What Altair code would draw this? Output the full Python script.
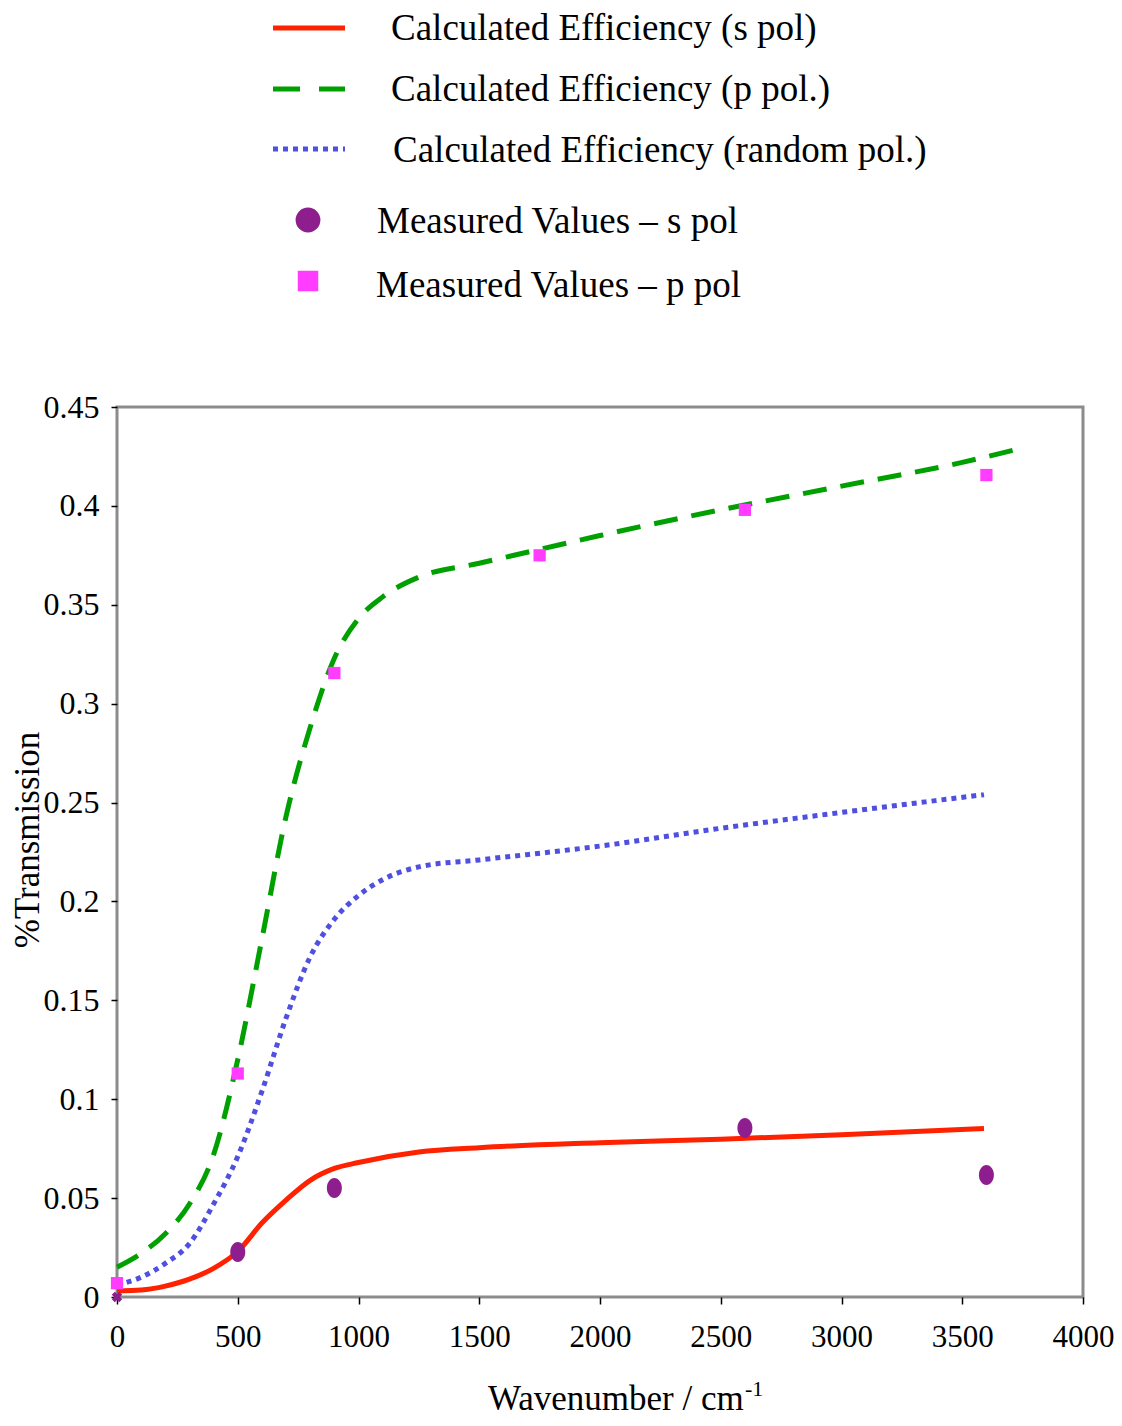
import altair as alt
import pandas as pd

# ---- data ----
wn_s = [0, 100, 200, 300, 400, 500, 600, 700, 800, 900, 1000, 1250, 1500, 2000, 2500, 3000, 3590]
eff_s = [0.003, 0.0035, 0.0055, 0.009, 0.0145, 0.023, 0.0374, 0.049, 0.059, 0.065, 0.068, 0.0733, 0.0755, 0.078, 0.0798, 0.082, 0.0852]

wn_p = [0, 100, 200, 300, 400, 500, 600, 700, 800, 900, 1000, 1100, 1250, 1500, 1750, 2000, 2500, 3000, 3500, 3740]
eff_p = [0.015, 0.022, 0.032, 0.047, 0.072, 0.12, 0.181, 0.243, 0.288, 0.323, 0.343, 0.354, 0.364, 0.371, 0.378, 0.385, 0.398, 0.41, 0.422, 0.429]

wn_r = [0, 100, 200, 300, 400, 500, 600, 700, 800, 900, 1000, 1100, 1250, 1500, 2000, 2500, 3000, 3590]
eff_r = [0.006, 0.01, 0.017, 0.027, 0.047, 0.071, 0.104, 0.141, 0.172, 0.191, 0.203, 0.211, 0.2175, 0.221, 0.228, 0.237, 0.245, 0.254]

meas_s_wn = [500, 900, 2600, 3600]
meas_s_val = [0.0228, 0.0551, 0.0855, 0.0617]
meas_s0_wn = [0]
meas_s0_val = [0.0]

meas_p_wn = [0, 500, 900, 1750, 2600, 3600]
meas_p_val = [0.007, 0.113, 0.3155, 0.375, 0.398, 0.4156]

x_ticks = [0, 500, 1000, 1500, 2000, 2500, 3000, 3500, 4000]
y_ticks = [0, 0.05, 0.1, 0.15, 0.2, 0.25, 0.3, 0.35, 0.4, 0.45]

legend_labels = [
    "Calculated Efficiency (s pol)",
    "Calculated Efficiency (p pol.)",
    "Calculated Efficiency (random pol.)",
    "Measured Values \u2013 s pol",
    "Measured Values \u2013 p pol",
]

RED = "#FF2200"
GREEN = "#00A000"
BLUE = "#5050E0"
PURPLE = "#8E1E8E"
MAGENTA = "#FF3CFF"
FONT = "Liberation Serif"
ELLIPSE = "M-0.75,0 A0.75,1 0 1,0 0.75,0 A0.75,1 0 1,0 -0.75,0 Z"

W, H = 966, 890

df_s = pd.DataFrame({"wn": wn_s, "eff": eff_s})
df_p = pd.DataFrame({"wn": wn_p, "eff": eff_p})
df_r = pd.DataFrame({"wn": wn_r, "eff": eff_r})
df_ms = pd.DataFrame({"wn": meas_s_wn, "val": meas_s_val})
df_ms0 = pd.DataFrame({"wn": meas_s0_wn, "val": meas_s0_val})
df_mp = pd.DataFrame({"wn": meas_p_wn, "val": meas_p_val})

xscale = alt.Scale(domain=[0, 4000], nice=False, zero=False)
yscale = alt.Scale(domain=[0, 0.45], nice=False)

xaxis = alt.Axis(values=x_ticks, format="d", title=None, grid=False, domain=False,
                 tickColor="black", tickSize=7, tickWidth=1.5,
                 labelFont=FONT, labelFontSize=31, labelColor="black", labelPadding=18,
                 labelFlush=False)
yaxis = alt.Axis(values=y_ticks, format=".2~f", title=None, grid=False, domain=False,
                 tickColor="black", tickSize=6, tickWidth=1.5,
                 labelFont=FONT, labelFontSize=32, labelColor="black", labelPadding=12)

X = alt.X("wn:Q", scale=xscale, axis=xaxis)

line_s = alt.Chart(df_s).mark_line(color=RED, strokeWidth=5, interpolate="monotone").encode(
    x=X, y=alt.Y("eff:Q", scale=yscale, axis=yaxis))
line_p = alt.Chart(df_p).mark_line(color=GREEN, strokeWidth=5, strokeDash=[24, 14], interpolate="monotone").encode(
    x="wn:Q", y="eff:Q")
line_r = alt.Chart(df_r).mark_line(color=BLUE, strokeWidth=5, strokeDash=[5, 5], interpolate="monotone").encode(
    x="wn:Q", y="eff:Q")

pts_s = alt.Chart(df_ms).mark_point(shape=ELLIPSE, filled=True, color=PURPLE, opacity=1, size=400).encode(
    x="wn:Q", y="val:Q")
pts_s0 = alt.Chart(df_ms0).mark_point(shape="cross", angle=45, filled=True, color=PURPLE, opacity=1, size=110).encode(
    x="wn:Q", y="val:Q")
pts_p = alt.Chart(df_mp).mark_point(shape="square", filled=True, color=MAGENTA, opacity=1, size=150).encode(
    x="wn:Q", y="val:Q")

# ---- custom legend above the plot (pixel positions relative to plot origin) ----
leg = []
line_rows = [(-379, RED, None), (-318, GREEN, [27, 19]), (-258, BLUE, [5, 5])]
for yy, col, dash in line_rows:
    kw = dict(color=col, strokeWidth=5)
    if dash:
        kw["strokeDash"] = dash
    leg.append(alt.Chart(df_s.head(1)).mark_rule(**kw).encode(
        x=alt.value(156), x2=alt.value(228), y=alt.value(yy)))
leg.append(alt.Chart(df_s.head(1)).mark_point(shape="circle", filled=True, color=PURPLE, opacity=1, size=616).encode(
    x=alt.value(191), y=alt.value(-187)))
leg.append(alt.Chart(df_s.head(1)).mark_point(shape="square", filled=True, color=MAGENTA, opacity=1, size=420).encode(
    x=alt.value(191), y=alt.value(-126)))
text_pos = [(274, -367), (274, -306), (276, -245), (260, -174), (259, -110)]
for lab, (tx, ty) in zip(legend_labels, text_pos):
    leg.append(alt.Chart(df_s.head(1)).mark_text(text=lab, font=FONT, fontSize=37, align="left",
                                                 baseline="alphabetic", color="black").encode(
        x=alt.value(tx), y=alt.value(ty)))

# ---- axis titles ----
ytitle = alt.Chart(df_s.head(1)).mark_text(text="%Transmission", font=FONT, fontSize=35, angle=270,
                                           align="center", baseline="middle", color="black").encode(
    x=alt.value(-89), y=alt.value(433))
xtitle = alt.Chart(df_s.head(1)).mark_text(text="Wavenumber / cm", font=FONT, fontSize=35, align="left",
                                           baseline="alphabetic", color="black").encode(
    x=alt.value(371), y=alt.value(1003))
xsup = alt.Chart(df_s.head(1)).mark_text(text="-1", font=FONT, fontSize=22, align="left",
                                         baseline="alphabetic", color="black").encode(
    x=alt.value(628), y=alt.value(989))

chart = alt.layer(line_s, line_p, line_r, pts_p, pts_s, pts_s0, ytitle, xtitle, xsup, *leg).properties(
    width=W, height=H,
    background="white",
    autosize=alt.AutoSizeParams(type="none"),
    padding={"left": 109, "top": 399, "right": 31, "bottom": 120},
).configure_view(stroke="#8C8C8C", strokeWidth=3)

chart.save("out.html", embed_options={"renderer": "svg", "actions": False})
